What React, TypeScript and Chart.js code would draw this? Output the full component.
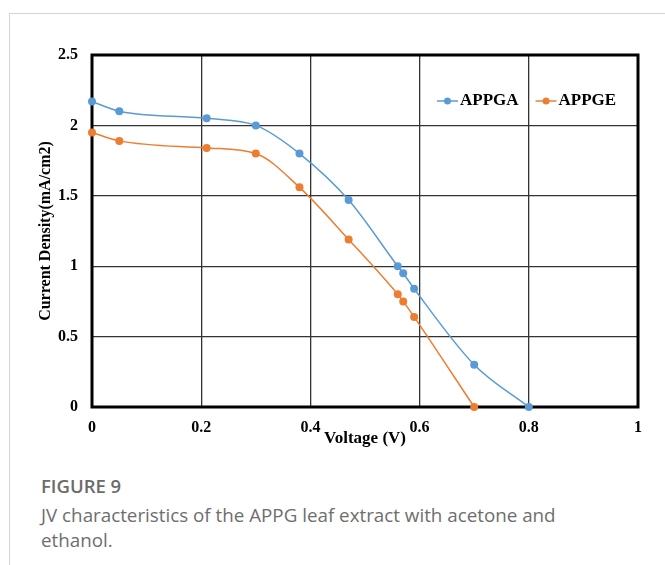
import React, { useEffect, useRef } from "react";
import { Chart, registerables } from "chart.js";

Chart.register(...registerables);

// ---- data ----
const voltageA = [0, 0.05, 0.21, 0.3, 0.38, 0.47, 0.56, 0.57, 0.59, 0.7, 0.8];
const currentA = [2.17, 2.1, 2.05, 2.0, 1.8, 1.47, 1.0, 0.95, 0.84, 0.3, 0.0];
const voltageE = [0, 0.05, 0.21, 0.3, 0.38, 0.47, 0.56, 0.57, 0.59, 0.7];
const currentE = [1.95, 1.89, 1.84, 1.8, 1.56, 1.19, 0.8, 0.75, 0.64, 0.0];
const seriesLabels = ["APPGA", "APPGE"];
const seriesColors = ["#5B9BD5", "#ED7D31"];
const xTitle = "Voltage (V)";
const yTitle = "Current Density(mA/cm2)";
const captionHead = "FIGURE 9";
const captionText = "JV characteristics of the APPG leaf extract with acetone and ethanol.";

const SERIF = '"Liberation Serif", "Times New Roman", serif';

const fmt = (v: number) => String(Math.round(v * 10) / 10);

const boxPlugin = {
  id: "boxPlugin",
  beforeDatasetsDraw(chart: any) {
    const { ctx, chartArea } = chart;
    ctx.save();
    ctx.strokeStyle = "#000";
    ctx.lineWidth = 3;
    ctx.strokeRect(chartArea.left, chartArea.top, chartArea.right - chartArea.left, chartArea.bottom - chartArea.top);
    ctx.restore();
  },
};

const legendPlugin = {
  id: "legendPlugin",
  afterDraw(chart: any) {
    const { ctx, chartArea } = chart;
    ctx.save();
    ctx.font = `bold 17px ${SERIF}`;
    ctx.textBaseline = "middle";
    ctx.textAlign = "left";
    let x = chartArea.left + 345;
    const y = chartArea.top + 46;
    chart.data.datasets.forEach((ds: any) => {
      ctx.strokeStyle = ds.borderColor;
      ctx.lineWidth = 1.5;
      ctx.beginPath();
      ctx.moveTo(x, y);
      ctx.lineTo(x + 21, y);
      ctx.stroke();
      ctx.fillStyle = ds.borderColor;
      ctx.beginPath();
      ctx.arc(x + 10.5, y, 3.5, 0, Math.PI * 2);
      ctx.fill();
      ctx.fillStyle = "#000";
      ctx.fillText(ds.label, x + 23, y);
      x += 23 + ctx.measureText(ds.label).width + 17;
    });
    ctx.restore();
  },
};

export default function App() {
  const ref = useRef<HTMLCanvasElement>(null);

  useEffect(() => {
    if (!ref.current) return;
    const mk = (xs: number[], ys: number[]) => xs.map((x, i) => ({ x, y: ys[i] }));
    const tickFont = { family: SERIF, size: 16, weight: "bold" as const };
    const chart = new Chart(ref.current, {
      type: "line",
      data: {
        datasets: [
          { label: seriesLabels[0], data: mk(voltageA, currentA), borderColor: seriesColors[0], backgroundColor: seriesColors[0] },
          { label: seriesLabels[1], data: mk(voltageE, currentE), borderColor: seriesColors[1], backgroundColor: seriesColors[1] },
        ].map((d) => ({
          ...d,
          borderWidth: 1.5,
          pointRadius: 4,
          pointBorderWidth: 0,
          pointBackgroundColor: d.borderColor,
          cubicInterpolationMode: "monotone" as const,
          clip: false as any,
          fill: false,
        })),
      },
      options: {
        animation: false,
        responsive: false,
        layout: { padding: { top: 15, right: 12, left: 0, bottom: 0 } },
        plugins: { legend: { display: false }, tooltip: { enabled: false } },
        scales: {
          x: {
            type: "linear",
            min: 0,
            max: 1,
            ticks: { stepSize: 0.2, color: "#000", font: tickFont, padding: 11, maxRotation: 0, callback: (v: any) => fmt(Number(v)) },
            grid: { color: "#333", lineWidth: 1.3, drawTicks: false },
            border: { display: false },
            title: { display: true, text: xTitle, color: "#000", font: { family: SERIF, size: 17, weight: "bold" }, padding: { top: 0, bottom: 11 } },
            afterFit(scale: any) {
              scale.height = 53;
              scale.paddingLeft = 0;
              scale.paddingRight = 0;
            },
          },
          y: {
            type: "linear",
            min: 0,
            max: 2.5,
            ticks: { stepSize: 0.5, color: "#000", font: tickFont, padding: 14, callback: (v: any) => fmt(Number(v)) },
            grid: { color: "#333", lineWidth: 1.3, drawTicks: false },
            border: { display: false },
            title: { display: true, text: yTitle, color: "#000", font: { family: SERIF, size: 16, weight: "bold" }, padding: { top: 16, bottom: 0 } },
            afterFit(scale: any) {
              scale.width = 72;
              scale.paddingTop = 0;
              scale.paddingBottom = 0;
            },
          },
        },
      },
      plugins: [boxPlugin, legendPlugin],
    });
    return () => chart.destroy();
  }, []);

  return (
    <div style={{ position: "fixed", left: 0, top: 0, width: 665, height: 565, overflow: "hidden", background: "#fff" }}>
      <div style={{ position: "absolute", left: 9, top: 13, width: 700, height: 600, borderLeft: "1.5px solid #d3d3d3", borderTop: "1.5px solid #d3d3d3" }} />
      <canvas ref={ref} width={630} height={420} style={{ position: "absolute", left: 20, top: 40, width: 630, height: 420 }} />
      <div style={{ position: "absolute", left: 41, top: 474, width: 580, fontFamily: '"Open Sans", sans-serif', color: "#666" }}>
        <div style={{ fontSize: 18.5, lineHeight: "24px", fontWeight: 600, color: "#6b6b6b" }}>{captionHead}</div>
        <div style={{ fontSize: 18.8, lineHeight: "25px", marginTop: 5, color: "#6e6e6e", width: 545 }}>{captionText}</div>
      </div>
    </div>
  );
}
